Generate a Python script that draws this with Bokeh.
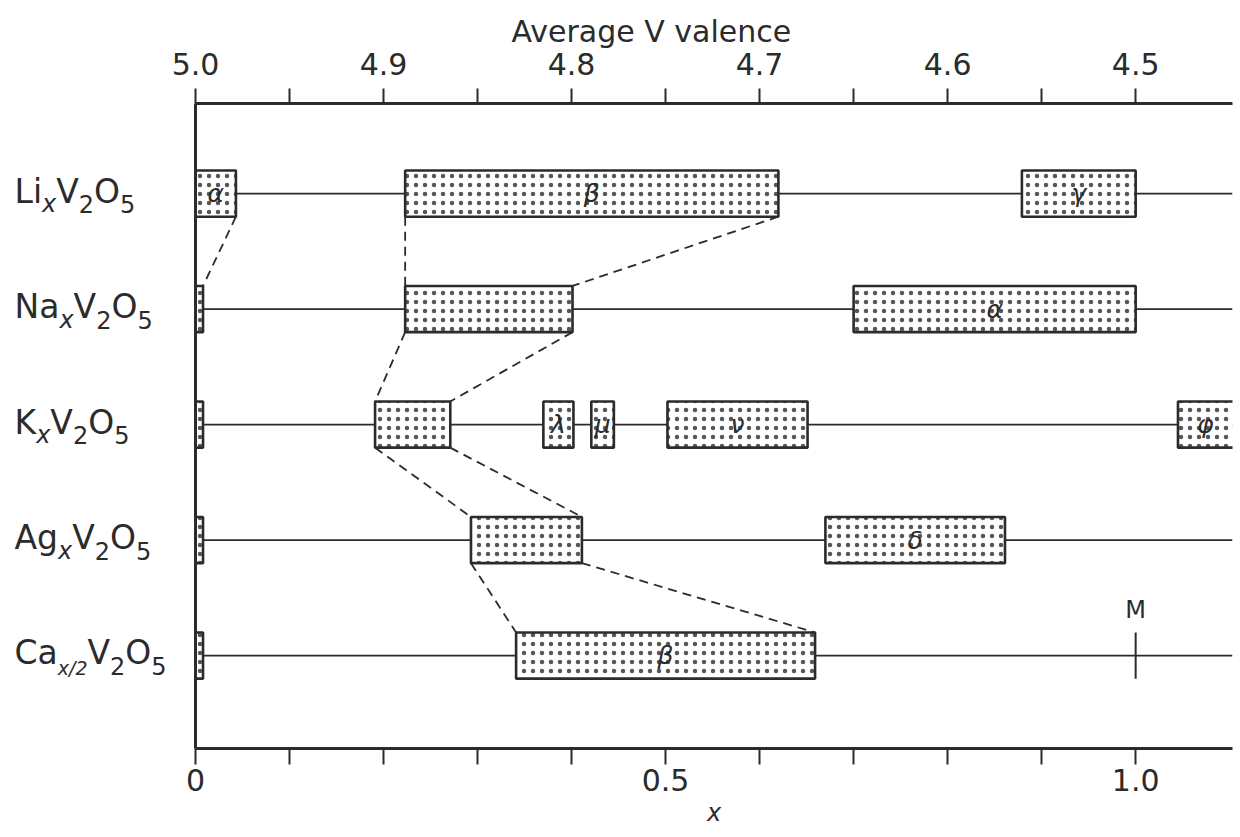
from bokeh.plotting import figure
from bokeh.layouts import row
from bokeh.models import (Range1d, LinearAxis, FixedTicker, NumeralTickFormatter,
                          ColumnDataSource)
from bokeh.core.properties import value
from bokeh.embed import file_html
from bokeh.resources import INLINE

# ---------------- data ----------------
ROWS = ["Li", "Na", "K", "Ag", "Ca"]
ROW_Y = [5, 4, 3, 2, 1]
ROW_FORMULA = [
    [("Li", 0), ("x", 1), ("V", 0), ("2", 1), ("O", 0), ("5", 1)],
    [("Na", 0), ("x", 1), ("V", 0), ("2", 1), ("O", 0), ("5", 1)],
    [("K", 0), ("x", 1), ("V", 0), ("2", 1), ("O", 0), ("5", 1)],
    [("Ag", 0), ("x", 1), ("V", 0), ("2", 1), ("O", 0), ("5", 1)],
    [("Ca", 0), ("x/2", 2), ("V", 0), ("2", 1), ("O", 0), ("5", 1)],
]

PHASE_ROW = ["Li", "Li", "Li",
             "Na", "Na", "Na",
             "K", "K", "K", "K", "K", "K",
             "Ag", "Ag", "Ag",
             "Ca", "Ca"]
PHASE_START = [0.0, 0.223, 0.879,
               0.0, 0.223, 0.700,
               0.0, 0.191, 0.370, 0.421, 0.502, 1.045,
               0.0, 0.293, 0.670,
               0.0, 0.341]
PHASE_END = [0.043, 0.620, 1.000,
             0.008, 0.401, 1.000,
             0.008, 0.271, 0.402, 0.445, 0.651, 1.150,
             0.008, 0.411, 0.861,
             0.008, 0.659]
PHASE_NAME = ["α", "β", "γ",
              "", "", "α",
              "", "", "λ", "μ", "ν", "φ",
              "", "", "δ",
              "", "β"]

# dashed links: (upper phase index, lower phase index, side)
CONNECT = [(0, 3, "end"), (1, 4, "start"), (1, 4, "end"),
           (4, 7, "start"), (4, 7, "end"),
           (7, 13, "start"), (7, 13, "end"),
           (13, 16, "start"), (13, 16, "end")]

MARKER_ROW = ["Ca"]
MARKER_X = [1.0]
MARKER_TEXT = ["M"]

X_TICKS_MAJOR = [0.0, 0.5, 1.0]
X_TICK_LABELS = ["0", "0.5", "1.0"]
X_TICKS_MINOR = [0.1, 0.2, 0.3, 0.4, 0.6, 0.7, 0.8, 0.9]
VALENCE_TICKS = [5.0, 4.9, 4.8, 4.7, 4.6, 4.5]
VALENCE_MINOR = [4.95, 4.85, 4.75, 4.65, 4.55]

# ---------------- style / layout ----------------
INK = "#2b2b2b"
FONT = "DejaVu Sans"
X_END = 1.103
Y_MIN, Y_MAX = 0.195, 5.78
BAR_H = 0.4
FIG_H = 837
TOP_B, BOT_B = 103, 89
LEFT_W = 168
MAIN_W = 1240 - LEFT_W
FRAME_H = FIG_H - TOP_B - BOT_B
PX = FRAME_H / (Y_MAX - Y_MIN)      # pixels per y unit
BASE_SHIFT = 0.38                   # em correction for alphabetic baseline

row_y = dict(zip(ROWS, ROW_Y))
y_range = Range1d(Y_MIN, Y_MAX)

p = figure(width=MAIN_W, height=FIG_H, x_range=Range1d(0, X_END),
           y_range=y_range, output_backend="svg",
           toolbar_location=None, min_border_left=27, min_border_right=8,
           min_border_top=TOP_B, min_border_bottom=BOT_B)
p.xgrid.visible = False
p.ygrid.visible = False
p.outline_line_color = None
p.background_fill_color = "white"
p.border_fill_color = "white"

p.title.text = "Average V valence"
p.title.align = "left"
p.title.offset = 316
p.title.text_font = FONT
p.title.text_font_size = "30px"
p.title.text_font_style = "normal"
p.title.text_color = INK
p.title.standoff = 2

# bottom axis
xa = p.xaxis[0]
xa.ticker = FixedTicker(ticks=X_TICKS_MAJOR, minor_ticks=X_TICKS_MINOR)
xa.major_label_overrides = {t: l for t, l in zip(X_TICKS_MAJOR, X_TICK_LABELS)}
xa.axis_line_width = 3
xa.axis_line_color = INK
xa.major_tick_in = 0
xa.major_tick_out = 16
xa.minor_tick_in = 0
xa.minor_tick_out = 16
xa.major_tick_line_width = 2
xa.minor_tick_line_width = 2
xa.major_tick_line_color = INK
xa.minor_tick_line_color = INK
xa.major_label_text_font = FONT
xa.major_label_text_font_size = "30px"
xa.major_label_text_color = INK
xa.major_label_standoff = 4
xa.axis_label = "x"
xa.axis_label_text_font = FONT
xa.axis_label_text_font_size = "24px"
xa.axis_label_text_font_style = "italic"
xa.axis_label_text_color = INK
xa.axis_label_standoff = 5

# left axis: bare line
ya = p.yaxis[0]
ya.axis_line_width = 3
ya.axis_line_color = INK
ya.major_tick_line_color = None
ya.minor_tick_line_color = None
ya.major_tick_out = 0
ya.minor_tick_out = 0
ya.major_label_standoff = 0
ya.major_label_text_font_size = "0px"
ya.ticker = FixedTicker(ticks=[])

# top axis: average V valence = 5 - x/2
p.extra_x_ranges = {"val": Range1d(5.0, 5.0 - X_END / 2)}
ta = LinearAxis(x_range_name="val",
                ticker=FixedTicker(ticks=VALENCE_TICKS, minor_ticks=VALENCE_MINOR),
                formatter=NumeralTickFormatter(format="0.0"))
ta.axis_line_width = 3
ta.axis_line_color = INK
ta.major_tick_in = 0
ta.major_tick_out = 15
ta.minor_tick_in = 0
ta.minor_tick_out = 15
ta.major_tick_line_width = 2
ta.minor_tick_line_width = 2
ta.major_tick_line_color = INK
ta.minor_tick_line_color = INK
ta.major_label_text_font = FONT
ta.major_label_text_font_size = "30px"
ta.major_label_text_color = INK
ta.major_label_standoff = 14
p.add_layout(ta, "above")

# row base lines
p.segment(x0=[0.0] * len(ROWS), x1=[X_END] * len(ROWS), y0=ROW_Y, y1=ROW_Y,
          line_color=INK, line_width=1.8)

# dashed connectors
cx0, cy0, cx1, cy1 = [], [], [], []
for up, lo, side in CONNECT:
    arr = PHASE_START if side == "start" else PHASE_END
    cx0.append(arr[up]); cy0.append(row_y[PHASE_ROW[up]] - BAR_H / 2)
    cx1.append(arr[lo]); cy1.append(row_y[PHASE_ROW[lo]] + BAR_H / 2)
p.segment(x0=cx0, y0=cy0, x1=cx1, y1=cy1, line_color=INK, line_width=1.8,
          line_dash="9 6")

# phase boxes
ys = [row_y[r] for r in PHASE_ROW]
src = ColumnDataSource(dict(left=PHASE_START, right=PHASE_END,
                            bottom=[y - BAR_H / 2 for y in ys],
                            top=[y + BAR_H / 2 for y in ys],
                            cx=[(a + min(b, X_END)) / 2 for a, b in zip(PHASE_START, PHASE_END)],
                            cy=ys, name=PHASE_NAME))
p.quad(left="left", right="right", bottom="bottom", top="top", source=src,
       fill_color="white", line_color=INK, line_width=2.6,
       hatch_pattern="dot", hatch_scale=9, hatch_color="#3a3a3a", hatch_alpha=0.85)
p.text(x="cx", y="cy", text="name", source=src, text_font=value(FONT),
       text_font_size="25px", text_font_style="italic", text_color=INK,
       text_align="center", text_baseline="middle")

# marker M
my = [row_y[r] for r in MARKER_ROW]
p.segment(x0=MARKER_X, x1=MARKER_X, y0=[y - 0.2 for y in my], y1=[y + 0.2 for y in my],
          line_color=INK, line_width=2)
p.text(x=MARKER_X, y=[y + (36 + BASE_SHIFT * 24) / PX for y in my], text=MARKER_TEXT,
       text_font=value(FONT), text_font_size="24px", text_color=INK,
       text_align="center", text_baseline="alphabetic")

# ---------------- left panel: row formula labels ----------------
lp = figure(width=LEFT_W, height=FIG_H, x_range=Range1d(0, LEFT_W), y_range=y_range,
            output_backend="svg", toolbar_location=None,
            min_border_left=0, min_border_right=0,
            min_border_top=TOP_B, min_border_bottom=BOT_B)
lp.axis.visible = False
lp.grid.visible = False
lp.outline_line_color = None
lp.border_fill_color = "white"
lp.background_fill_color = "white"

ADV = {"L": 0.557, "i": 0.278, "N": 0.748, "a": 0.613, "K": 0.656, "A": 0.684,
       "g": 0.635, "C": 0.698, "V": 0.684, "O": 0.787, "x": 0.592, "2": 0.636,
       "5": 0.636, "/": 0.337}
SIZES = {0: 33, 1: 24, 2: 19}
DROP = {0: 10, 1: 20, 2: 20}         # baseline drop below the row line, px
pieces = {"x": [], "y": [], "t": [], "size": [], "style": []}
for r, formula in zip(ROWS, ROW_FORMULA):
    cursor = 14.0
    for txt, kind in formula:
        size = SIZES[kind]
        pieces["x"].append(cursor)
        pieces["y"].append(row_y[r] - (DROP[kind] - BASE_SHIFT * size) / PX)
        pieces["t"].append(txt)
        pieces["size"].append(f"{size}px")
        pieces["style"].append("italic" if txt.startswith("x") else "normal")
        cursor += sum(ADV.get(ch, 0.6) for ch in txt) * size
lsrc = ColumnDataSource(pieces)
lp.text(x="x", y="y", text="t", source=lsrc, text_font=value(FONT),
        text_font_size="size", text_font_style="style", text_color=INK,
        text_align="left", text_baseline="alphabetic")

layout = row(lp, p)
open("out.html", "w").write(file_html(layout, INLINE))
